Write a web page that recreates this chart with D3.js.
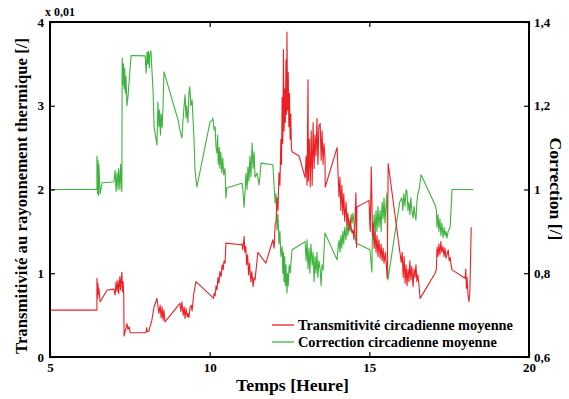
<!DOCTYPE html>
<html><head><meta charset="utf-8">
<script src="https://cdn.jsdelivr.net/npm/d3@7"></script>
<style>
html,body{margin:0;padding:0;background:#fff;}
text{font-family:"Liberation Serif","DejaVu Serif",serif;font-weight:bold;fill:#000;}
</style></head>
<body><svg id="c" width="569" height="399"></svg>
<script>
// ---- data ----
const xTicks = [5, 10, 15, 20];
const leftTicks = [0, 1, 2, 3, 4];
const rightTicks = [0.6, 0.8, 1.0, 1.2, 1.4];
const rightTickLabels = ["0,6", "0,8", "1", "1,2", "1,4"];
const seriesNames = ["Transmitivité circadienne moyenne", "Correction circadienne moyenne"];

// [heure, transmitivité (x 0,01)]
const transmitivite = [
[5.00,0.56],[6.47,0.56],[6.47,0.94],[6.49,0.70],[6.50,0.88],[6.52,0.75],[6.53,0.82],[6.57,0.66],[6.79,0.80],[7.00,0.81],
[7.04,0.74],[7.07,0.90],[7.10,0.78],[7.13,0.92],[7.15,0.76],[7.19,0.96],[7.21,0.80],[7.25,1.01],[7.27,0.78],[7.29,0.90],
[7.31,0.72],[7.32,0.25],[7.35,0.30],[7.41,0.40],[7.44,0.33],[7.48,0.36],[7.51,0.29],[7.98,0.29],[8.01,0.30],[8.03,0.35],
[8.05,0.30],[8.10,0.31],[8.13,0.36],[8.19,0.44],[8.26,0.60],[8.35,0.70],[8.41,0.52],[8.45,0.62],[8.48,0.47],[8.51,0.60],
[8.54,0.44],[8.57,0.56],[8.60,0.42],[9.07,0.64],[9.10,0.54],[9.13,0.66],[9.17,0.50],[9.20,0.60],[9.23,0.46],[9.26,0.58],
[9.30,0.48],[9.32,0.52],[9.35,0.47],[9.38,0.58],[9.42,0.62],[9.45,0.55],[9.50,0.75],[9.57,0.90],[10.07,0.72],[10.12,0.70],
[10.14,0.76],[10.17,0.73],[10.20,0.85],[10.23,0.80],[10.26,0.95],[10.29,0.88],[10.32,1.02],[10.36,0.96],[10.39,1.10],[10.42,1.04],
[10.45,1.15],[10.48,1.12],[10.51,1.36],[10.98,1.34],[11.01,1.35],[11.04,1.28],[11.08,1.44],[11.10,1.25],[11.13,1.32],[11.16,1.10],
[11.19,1.22],[11.22,0.98],[11.25,1.12],[11.29,0.90],[11.32,1.02],[11.36,0.84],[11.39,0.95],[11.42,0.92],[11.51,1.25],[11.76,1.12],
[11.98,1.40],[12.02,1.30],[12.05,1.58],[12.08,1.62],[12.11,1.90],[12.14,1.75],[12.17,2.20],[12.20,2.05],[12.23,2.60],[12.25,2.30],
[12.27,3.10],[12.29,2.55],[12.31,3.67],[12.33,2.70],[12.35,3.20],[12.37,2.80],[12.39,3.55],[12.41,2.90],[12.42,3.88],[12.44,2.95],
[12.46,3.40],[12.48,2.75],[12.50,3.15],[12.52,2.60],[12.54,2.90],[12.56,2.50],[12.58,2.45],[12.80,2.40],[12.99,2.14],[13.02,2.40],
[13.05,2.05],[13.08,3.31],[13.09,2.10],[13.12,2.60],[13.15,2.03],[13.18,2.70],[13.21,2.05],[13.24,2.80],[13.27,2.25],[13.30,2.65],
[13.33,2.40],[13.36,2.85],[13.39,2.30],[13.42,2.75],[13.46,2.79],[13.49,2.35],[13.52,2.70],[13.55,2.30],[13.58,2.55],[13.61,2.39],
[13.62,2.03],[13.99,2.50],[14.02,2.20],[14.05,1.91],[14.08,2.15],[14.11,1.75],[14.14,2.05],[14.17,1.70],[14.20,1.95],[14.23,1.62],
[14.27,1.85],[14.30,1.58],[14.33,1.72],[14.37,1.52],[14.40,1.65],[14.43,1.55],[14.46,1.48],[14.49,1.52],[14.52,1.40],[14.55,1.60],
[14.58,1.96],[14.60,1.31],[14.61,1.79],[14.99,1.87],[15.02,1.55],[15.03,1.50],[15.06,2.27],[15.08,1.90],[15.10,1.45],[15.12,1.60],
[15.15,1.30],[15.18,1.50],[15.21,1.25],[15.24,1.45],[15.27,1.20],[15.30,1.40],[15.34,1.18],[15.37,1.35],[15.40,1.15],[15.43,1.30],
[15.46,1.12],[15.50,1.25],[15.56,0.94],[15.59,2.31],[16.00,1.13],[16.03,1.25],[16.06,0.95],[16.09,1.20],[16.12,0.88],[16.15,1.10],
[16.18,0.85],[16.21,1.05],[16.24,0.90],[16.27,1.15],[16.30,0.92],[16.33,1.08],[16.37,0.84],[16.40,1.05],[16.43,0.95],[16.46,1.10],
[16.49,0.90],[16.52,0.98],[16.55,0.88],[16.59,0.70],[17.06,1.00],[17.10,1.05],[17.12,1.31],[17.15,1.20],[17.18,1.35],[17.21,1.22],
[17.24,1.38],[17.27,1.25],[17.31,1.32],[17.34,1.20],[17.37,1.30],[17.40,1.18],[17.43,1.22],[17.47,1.28],[17.50,1.15],[17.53,1.19],
[17.56,1.10],[17.59,1.04],[18.00,0.94],[18.02,1.05],[18.04,0.82],[18.06,0.95],[18.09,0.74],[18.12,0.66],[18.15,0.80],[18.19,1.55]
];

// [heure, correction]
const correction = [
[5.00,1.0],[6.47,1.0],[6.47,1.08],[6.49,0.99],[6.50,1.07],[6.52,0.985],[6.53,1.06],[6.57,0.99],[6.63,1.016],[7.00,1.018],
[7.04,1.045],[7.07,0.995],[7.10,1.04],[7.13,1.0],[7.15,1.05],[7.19,1.0],[7.21,1.06],[7.25,0.995],[7.26,1.314],[7.29,1.25],
[7.30,1.30],[7.32,1.24],[7.34,1.29],[7.36,1.23],[7.38,1.27],[7.41,1.20],[7.44,1.22],[7.47,1.25],[7.54,1.32],[7.98,1.319],
[8.01,1.278],[8.04,1.328],[8.06,1.30],[8.08,1.33],[8.11,1.29],[8.13,1.325],[8.16,1.331],[8.23,1.23],[8.26,1.149],[8.35,1.106],
[8.38,1.209],[8.41,1.15],[8.43,1.19],[8.46,1.13],[8.48,1.18],[8.51,1.149],[8.54,1.197],[8.57,1.281],[9.01,1.166],[9.07,1.142],
[9.13,1.123],[9.17,1.17],[9.20,1.20],[9.23,1.226],[9.26,1.17],[9.28,1.20],[9.32,1.16],[9.35,1.23],[9.38,1.245],[9.41,1.20],
[9.45,1.214],[9.48,1.166],[9.51,1.12],[9.54,1.047],[9.60,1.006],[10.01,1.161],[10.07,1.164],[10.10,1.17],[10.14,1.142],[10.17,1.15],
[10.20,1.10],[10.23,1.087],[10.25,1.13],[10.27,1.06],[10.30,1.10],[10.32,1.05],[10.35,1.09],[10.38,1.04],[10.41,1.075],[10.44,1.035],
[10.48,1.05],[10.51,0.98],[10.54,1.004],[11.01,1.015],[11.04,0.998],[11.08,0.958],[11.14,1.039],[11.17,1.0],[11.20,1.054],[11.23,1.02],
[11.26,1.08],[11.29,1.03],[11.33,1.111],[11.36,1.05],[11.39,1.09],[11.42,1.03],[11.48,1.039],[11.55,1.011],[11.61,1.063],[11.98,1.059],
[12.05,0.968],[12.08,0.99],[12.11,0.903],[12.14,0.94],[12.17,0.87],[12.20,0.90],[12.23,0.84],[12.27,0.863],[12.29,0.80],[12.31,0.85],
[12.33,0.78],[12.35,0.84],[12.37,0.77],[12.39,0.82],[12.42,0.753],[12.44,0.80],[12.46,0.77],[12.49,0.82],[12.52,0.801],[12.58,0.856],
[12.99,0.875],[13.02,0.83],[13.05,0.88],[13.08,0.81],[13.11,0.86],[13.14,0.80],[13.17,0.87],[13.21,0.82],[13.24,0.85],[13.27,0.78],
[13.30,0.84],[13.33,0.80],[13.36,0.85],[13.39,0.79],[13.42,0.83],[13.46,0.81],[13.49,0.77],[13.52,0.82],[13.55,0.808],[13.61,0.896],
[13.99,0.832],[14.02,0.86],[14.05,0.879],[14.08,0.85],[14.11,0.89],[14.14,0.86],[14.17,0.90],[14.20,0.87],[14.23,0.91],[14.27,0.88],
[14.30,0.93],[14.33,0.89],[14.37,0.92],[14.40,0.90],[14.43,0.94],[14.46,0.92],[14.49,0.944],[14.58,0.872],[15.02,0.856],[15.08,0.803],
[15.10,0.92],[15.12,0.88],[15.15,0.94],[15.18,0.89],[15.21,0.95],[15.24,0.90],[15.27,0.96],[15.30,0.91],[15.34,0.95],[15.37,0.90],
[15.40,0.97],[15.43,0.93],[15.46,0.98],[15.49,0.92],[15.52,0.96],[15.55,0.992],[15.58,0.784],[15.90,0.944],[15.95,0.97],[16.02,0.98],
[16.05,0.95],[16.08,0.99],[16.12,0.96],[16.15,1.00],[16.18,0.994],[16.21,0.95],[16.24,0.97],[16.27,0.94],[16.30,0.98],[16.33,0.95],
[16.37,0.932],[16.40,0.96],[16.43,0.94],[16.46,0.927],[16.49,0.97],[16.52,0.99],[16.56,1.0],[16.62,1.035],[17.06,0.963],[17.10,0.95],
[17.12,0.91],[17.15,0.94],[17.18,0.90],[17.21,0.93],[17.24,0.89],[17.27,0.92],[17.31,0.885],[17.34,0.91],[17.37,0.89],[17.40,0.90],
[17.43,0.884],[17.47,0.90],[17.53,0.91],[17.59,1.0],[18.25,1.0]
];

// ---- layout ----
const W = 569, H = 399;
const L = 50, R = 529, T = 22, B = 357;
const RED = "#ec2024", GREEN = "#3db43d";

const svg = d3.select("#c");
const x = d3.scaleLinear().domain([5, 20]).range([L, R]);
const yL = d3.scaleLinear().domain([0, 4]).range([B, T]);
const yR = d3.scaleLinear().domain([0.6, 1.4]).range([B, T]);

// lines
const clip = svg.append("clipPath").attr("id","pc").append("rect")
  .attr("x",L).attr("y",T).attr("width",R-L).attr("height",B-T);
const g = svg.append("g").attr("clip-path","url(#pc)");
g.append("path").datum(correction)
  .attr("fill","none").attr("stroke",GREEN).attr("stroke-width",1.1).attr("stroke-linejoin","round")
  .attr("d", d3.line().x(d=>x(d[0])).y(d=>yR(d[1])));
g.append("path").datum(transmitivite)
  .attr("fill","none").attr("stroke",RED).attr("stroke-width",1.1).attr("stroke-linejoin","round")
  .attr("d", d3.line().x(d=>x(d[0])).y(d=>yL(d[1])));

// axes
const fmt = d => String(d).replace(".", ",");
function styleAxis(sel){
  sel.select(".domain").remove();
  sel.selectAll(".tick line").attr("stroke","#000").attr("stroke-width",1.2);
  sel.selectAll(".tick text").style("font-family",'"Liberation Serif",serif').style("font-weight","bold").style("font-size","13px");
}
svg.append("g").attr("transform",`translate(0,${B})`)
  .call(d3.axisBottom(x).tickValues(xTicks).tickSizeInner(-5).tickSizeOuter(0).tickPadding(6).tickFormat(d3.format("d")))
  .call(styleAxis);
svg.append("g").attr("transform",`translate(0,${T})`)
  .call(d3.axisTop(x).tickValues(xTicks).tickSizeInner(-5).tickSizeOuter(0).tickFormat(""))
  .call(styleAxis);
svg.append("g").attr("transform",`translate(${L},0)`)
  .call(d3.axisLeft(yL).tickValues(leftTicks).tickSizeInner(-5).tickSizeOuter(0).tickPadding(6).tickFormat(d3.format("d")))
  .call(styleAxis);
svg.append("g").attr("transform",`translate(${R},0)`)
  .call(d3.axisRight(yR).tickValues(rightTicks).tickSizeInner(-5).tickSizeOuter(0).tickPadding(5).tickFormat((d,i)=>rightTickLabels[i]))
  .call(styleAxis);

// frame
svg.append("rect").attr("x",L).attr("y",T).attr("width",R-L).attr("height",B-T)
  .attr("fill","none").attr("stroke","#000").attr("stroke-width",2);

// multiplier
svg.append("text").attr("x",45).attr("y",16).style("font-size","12px").text("x 0,01");

// titles
function fit(sel, target, base){
  sel.style("font-size", base+"px");
  const w = sel.node().getComputedTextLength();
  sel.style("font-size", (base*target/w).toFixed(2)+"px");
}
const tx = svg.append("text").attr("x",292.5).attr("y",391).attr("text-anchor","middle").text("Temps [Heure]");
fit(tx, 113, 16);
const tl = svg.append("text").attr("transform","translate(27,196) rotate(-90)").attr("text-anchor","middle")
  .text("Transmitivité au rayonnement thermique [/]");
fit(tl, 316, 16);
const tr = svg.append("text").attr("transform","translate(550,189) rotate(90)").attr("text-anchor","middle")
  .text("Correction [/]");
fit(tr, 103, 16);

// legend
const leg = svg.append("g");
[RED, GREEN].forEach((c,i)=>{
  const yy = 325 + i*17;
  leg.append("line").attr("x1",272).attr("x2",294).attr("y1",yy).attr("y2",yy).attr("stroke",c).attr("stroke-width",1.3);
  const t = leg.append("text").attr("x",298).attr("y",yy+4.5).text(seriesNames[i]);
  fit(t, i===0 ? 215 : 199, 13);
});
</script></body></html>
